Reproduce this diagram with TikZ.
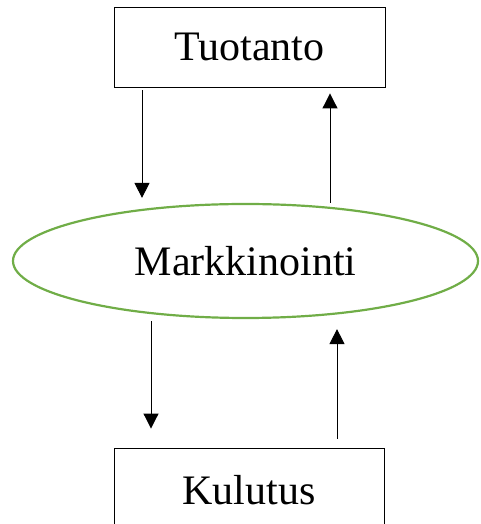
\documentclass[tikz,border=0pt]{standalone}
\usepackage{fontspec}
\setmainfont{Liberation Serif}
\usetikzlibrary{arrows.meta,shapes.geometric}
\definecolor{leafgreen}{RGB}{112,173,71}

\begin{document}
\begin{tikzpicture}[x=1pt, y=1pt, >={Triangle[width=15pt,length=15pt]},
    stage/.style={draw, line width=0.9pt, minimum width=271pt, inner sep=0pt,
        font=\fontsize{42}{50}\selectfont},
    market/.style={draw=leafgreen, line width=2.2pt, ellipse, inner sep=0pt,
        minimum width=465pt, minimum height=114pt, font=\fontsize{42}{50}\selectfont},
    flow/.style={->, line width=1pt}]
    \useasboundingbox (0,0) rectangle (480,524);

    % Nodes
    \node[stage, minimum height=80pt] (tuo) at (249.5,477) {Tuotanto};
    \node[market] (mark) at (245.5,263) {Markkinointi};
    \node[stage, minimum width=270pt, minimum height=84pt] (kul) at (249,34) {Kulutus};

    % Upper flows
    \draw[flow, shorten <=3pt, shorten >=5pt]
        ([xshift=-103.5pt]mark.north |- tuo.south) -- ([xshift=-103.5pt]mark.north);
    \draw[flow, shorten >=6pt]
        ([xshift=84.5pt]mark.north) -- ([xshift=84.5pt]mark.north |- tuo.south);

    % Lower flows
    \draw[flow, shorten <=2pt, shorten >=19pt]
        ([xshift=-94.5pt]mark.south) -- ([xshift=-94.5pt]mark.south |- kul.north);
    \draw[flow, shorten <=9pt, shorten >=10pt]
        ([xshift=91.5pt]mark.south |- kul.north) -- ([xshift=91.5pt]mark.south);
\end{tikzpicture}
\end{document}
